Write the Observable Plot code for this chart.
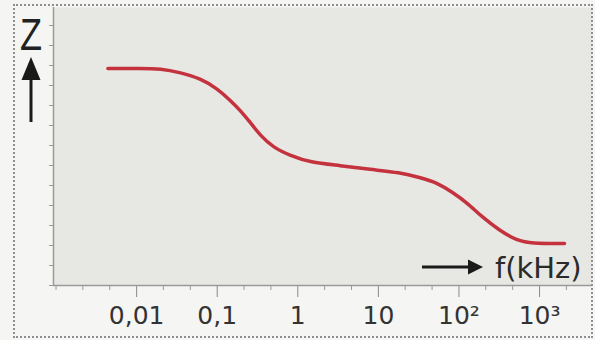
<!DOCTYPE html>
<html><head><meta charset="utf-8">
<script src="https://cdn.jsdelivr.net/npm/d3@7"></script>
<script src="https://cdn.jsdelivr.net/npm/@observablehq/plot@0.6"></script>
<style>
html,body{margin:0;padding:0;background:#f5f5f3;}
#wrap{position:relative;width:595px;height:340px;overflow:hidden;}
#wrap svg{position:absolute;left:0;top:0;}
#border{position:absolute;left:13px;top:4px;width:576px;height:330px;border:2px dotted #8f8f8f;pointer-events:none;}
</style></head><body><div id="wrap"><div id="border"></div></div>
<script>
// Impedance Z (arbitrary units) versus frequency f in kHz
const freqKHz   = [0.0044, 0.0112, 0.0198, 0.035, 0.062, 0.1, 0.146, 0.194, 0.258, 0.343, 0.497, 0.806, 1.42, 3.35, 7.87, 18.5, 32.7, 53.1, 83.8, 125, 197, 320, 519, 819, 1770, 2040];
const impedance = [217, 217, 217, 213, 207, 197, 185, 175, 163, 150, 138, 130, 123, 120, 116, 113, 108, 103, 93, 83, 68, 55, 45, 42, 42, 42];

const majorTicks  = [0.01, 0.1, 1, 10, 100, 1000];
const majorLabels = ["0,01", "0,1", "1", "10", "10²", "10³"];
const minorTicks  = [0.001, 0.00215, 0.00464, 0.0215, 0.0464, 0.215, 0.464, 2.15, 4.64, 21.5, 46.4, 215, 464, 2154];
const yTicks      = [0, 20, 40, 60, 80, 100, 120, 140, 160, 180, 200, 220, 240, 260];
const xDomain = [0.00093, 4540];
const yDomain = [0, 278];

const data = freqKHz.map((f, i) => ({f, z: impedance[i]}));

const W = 595, H = 340, mL = 53, mR = 3, mT = 7, mB = 55;

function annotations(index, scales, values, dims) {
  const g = d3.create("svg:g").attr("text-anchor", "start");
  const left = dims.marginLeft, bottom = dims.height - dims.marginBottom, right = dims.width - dims.marginRight;
  // Z label with upward arrow
  const zx = left - 22;
  g.append("text").attr("x", zx).attr("y", 50).attr("text-anchor", "middle")
    .attr("transform", `translate(${zx},0) scale(0.82,1) translate(${-zx},0)`)
    .attr("font-family", "Liberation Sans").attr("font-size", 44).attr("fill", "#222").text("Z");
  g.append("line").attr("x1", zx).attr("x2", zx).attr("y1", 122).attr("y2", 76)
    .attr("stroke", "#1a1a1a").attr("stroke-width", 3);
  g.append("path").attr("d", `M${zx},57L${zx - 9.5},80L${zx + 9.5},80Z`).attr("fill", "#1a1a1a");
  // f(kHz) label with right arrow
  const ay = bottom - 18;
  const ax1 = right - 170, ax2 = right - 109;
  g.append("line").attr("x1", ax1).attr("x2", ax2 - 12).attr("y1", ay).attr("y2", ay)
    .attr("stroke", "#1a1a1a").attr("stroke-width", 3);
  g.append("path").attr("d", `M${ax2},${ay}L${ax2 - 15},${ay - 7.5}L${ax2 - 15},${ay + 7.5}Z`).attr("fill", "#1a1a1a");
  g.append("text").attr("x", right - 97).attr("y", bottom - 7).attr("text-anchor", "start")
    .attr("font-family", "DejaVu Sans").attr("font-size", 29).attr("fill", "#2a2a2a").text("f(kHz)");
  return g.node();
}

const chart = Plot.plot({
  width: W, height: H,
  marginLeft: mL, marginRight: mR, marginTop: mT, marginBottom: mB,
  style: {background: "transparent", fontFamily: "DejaVu Sans", overflow: "visible"},
  x: {type: "log", domain: xDomain},
  y: {domain: yDomain},
  marks: [
    Plot.frame({fill: "#e7e7e4", stroke: null}),
    Plot.axisY({ticks: yTicks, tickSize: 4, tickFormat: () => "", label: null, stroke: "#9a9a9a"}),
    Plot.axisX({ticks: minorTicks, tickSize: 5, tickFormat: () => "", label: null, stroke: "#9a9a9a"}),
    Plot.axisX({ticks: majorTicks, tickSize: 12, tickPadding: 9, label: null,
      tickFormat: d => majorLabels[majorTicks.indexOf(d)],
      fontSize: 25, fill: "#333", stroke: "#8a8a8a"}),
    Plot.ruleY([yDomain[0]], {stroke: "#9a9a9a", strokeWidth: 1.5}),
    Plot.ruleX([xDomain[0]], {stroke: "#9a9a9a", strokeWidth: 1.5}),
    Plot.line(data, {x: "f", y: "z", stroke: "#c4323e", strokeWidth: 3.5, curve: "basis"}),
    annotations
  ]
});
document.getElementById("wrap").prepend(chart);
</script>
</body></html>
